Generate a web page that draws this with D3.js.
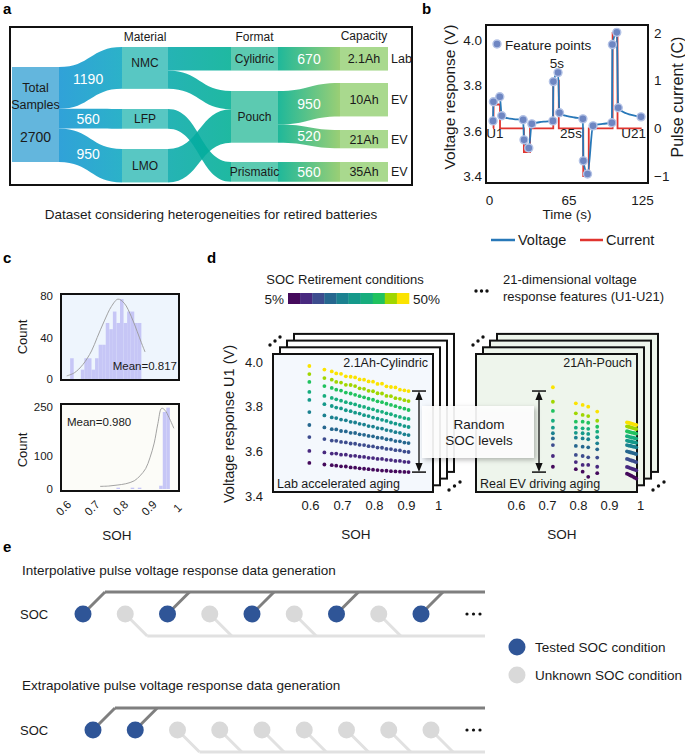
<!DOCTYPE html>
<html>
<head>
<meta charset="utf-8">
<script src="https://cdn.jsdelivr.net/npm/d3@7/dist/d3.min.js"></script>
<style>
html,body{margin:0;padding:0;background:#fff;}
svg{display:block;}
</style>
</head>
<body>
<svg id="fig" width="685" height="756"></svg>
<script>
// ====================== DATA ======================
// (a) Sankey of the dataset
const sankeyNodes = ["Total Samples","NMC","LFP","LMO","Cylidric","Pouch","Prismatic","2.1Ah","10Ah","21Ah","35Ah"];
const sankeyStages = ["Material","Format","Capacity"];
const linkSource = ["Total Samples","Total Samples","Total Samples","NMC","NMC","LFP","LMO","Cylidric","Pouch","Pouch","Prismatic"];
const linkTarget = ["NMC","LFP","LMO","Cylidric","Pouch","Prismatic","Pouch","2.1Ah","10Ah","21Ah","35Ah"];
const linkValue  = [1190,560,950,670,520,560,950,670,950,520,560];
const capacityNodes = ["2.1Ah","10Ah","21Ah","35Ah"];
const capacityUse = ["Lab","EV","EV","EV"];

// (b) pulse test
const voltTime  = [3.3,3.6,8.8,10.4,12,15,20,27.9,28.6,32.5,35,37,41,46,52.2,52.6,56.4,57.6,60,64,70,76.7,77.1,80.5,85,88,93,100.4,100.8,104.4,105.6,108,112,118,124.2];
const voltValue = [3.644,3.729,3.751,3.667,3.661,3.656,3.652,3.649,3.560,3.524,3.631,3.634,3.638,3.641,3.644,3.818,3.858,3.680,3.672,3.665,3.659,3.653,3.467,3.409,3.622,3.627,3.631,3.636,3.982,4.036,3.702,3.689,3.678,3.668,3.662];
const currTime  = [3.3,3.7,3.7,9,9,28.5,28.5,33.5,33.5,52.5,52.5,57,57,77,77,81.5,81.5,101,101,105,105,124.7];
const currValue = [0,0,0.5,0.5,0,0,-0.5,-0.5,0,0,1,1,0,0,-1,-1,0,0,2,2,0,0];
const featTime  = [3.3,3.6,8.8,10.4,27.9,28.6,32.5,35,52.2,52.6,56.4,57.6,76.7,77.1,80.5,85,100.4,100.8,104.4,105.6,124.2];
const featValue = [3.644,3.729,3.751,3.667,3.649,3.560,3.524,3.631,3.644,3.818,3.858,3.680,3.653,3.467,3.409,3.622,3.636,3.982,4.036,3.702,3.662];
const voltTicks = [3.4,3.6,3.8,4.0];
const currTicks = [-1,0,1,2];
const timeTicks = [0,65,125];

// (c) SOH histograms
const histTopStart  = [0.625,0.6375,0.65,0.6625,0.675,0.6875,0.7,0.7125,0.725,0.7375,0.75,0.7625,0.775,0.7875,0.8,0.8125,0.825,0.8375,0.85,0.8625];
const histTopCount  = [20,0,0,9,20,20,9,20,33,33,54,48,65,54,77,54,65,65,54,54];
const histBotStart  = [0.7875,0.8375,0.8625,0.9375,0.95,0.9625];
const histBotCount  = [4,4,4,10,235,248];
const fitTopSOH   = [0.613,0.64,0.67,0.70,0.72,0.745,0.77,0.793,0.815,0.84,0.86,0.875,0.888];
const fitTopCount = [3,6,14,27,40,56,70,77,73,60,46,35,26];
const fitBotSOH   = [0.73,0.76,0.79,0.82,0.85,0.87,0.89,0.905,0.92,0.933,0.946,0.958,0.972,0.989];
const fitBotCount = [8,9,12,16,25,40,62,95,140,200,246,240,218,185];
const histTopTicks = [0,40,80];
const histBotTicks = [0,100,250];
const sohTicks = [0.6,0.7,0.8,0.9,1];

// (d) U1 vs SOH for 10 SOC levels (rows: 5% ... 50%)
const socColors = ["#450a5c","#48297f","#3d4c8e","#26678f","#1b8190","#15998a","#17ad7d","#20c25f","#a0d600","#fbe300"];
const cylSOH = [0.598,0.645,0.668,0.682,0.697,0.712,0.727,0.741,0.755,0.769,0.783,0.797,0.811,0.825,0.839,0.853,0.867,0.881,0.895,0.908];
const cylU1 = [
 [3.548,3.541,3.538,3.536,3.533,3.532,3.528,3.527,3.524,3.522,3.520,3.518,3.516,3.514,3.513,3.511,3.510,3.509,3.508,3.507],
 [3.602,3.595,3.590,3.590,3.585,3.585,3.580,3.580,3.576,3.575,3.571,3.570,3.566,3.566,3.562,3.561,3.557,3.557,3.553,3.552],
 [3.664,3.655,3.648,3.647,3.642,3.640,3.635,3.634,3.629,3.628,3.623,3.622,3.617,3.616,3.611,3.610,3.605,3.604,3.599,3.597],
 [3.718,3.707,3.699,3.698,3.691,3.689,3.683,3.682,3.676,3.674,3.669,3.667,3.661,3.660,3.654,3.652,3.646,3.645,3.639,3.637],
 [3.776,3.761,3.752,3.749,3.742,3.739,3.732,3.729,3.723,3.720,3.713,3.711,3.704,3.702,3.695,3.692,3.686,3.683,3.676,3.673],
 [3.830,3.811,3.803,3.796,3.792,3.784,3.780,3.773,3.769,3.762,3.758,3.751,3.746,3.741,3.736,3.729,3.724,3.719,3.713,3.709],
 [3.866,3.848,3.839,3.833,3.827,3.820,3.815,3.810,3.803,3.799,3.792,3.788,3.781,3.777,3.770,3.766,3.759,3.754,3.749,3.745],
 [3.911,3.892,3.884,3.876,3.872,3.863,3.859,3.853,3.847,3.842,3.836,3.831,3.824,3.820,3.813,3.808,3.802,3.796,3.791,3.785],
 [3.946,3.928,3.921,3.911,3.908,3.898,3.897,3.892,3.882,3.880,3.871,3.869,3.860,3.859,3.848,3.847,3.838,3.835,3.829,3.825],
 [3.982,3.966,3.958,3.949,3.947,3.936,3.934,3.931,3.922,3.921,3.913,3.912,3.902,3.903,3.891,3.888,3.886,3.876,3.873,3.870]
];
const pouchSOH = [0.719,0.793,0.815,0.833,0.862];
const pouchU1 = [
 [3.531,3.520,3.509,3.486,3.502],
 [3.579,3.552,3.539,3.539,3.531],
 [3.628,3.584,3.579,3.573,3.572],
 [3.658,3.624,3.621,3.618,3.609],
 [3.681,3.661,3.658,3.654,3.636],
 [3.706,3.683,3.681,3.678,3.663],
 [3.737,3.706,3.703,3.701,3.688],
 [3.781,3.733,3.733,3.728,3.710],
 [3.822,3.770,3.763,3.758,3.737],
 [3.887,3.815,3.808,3.800,3.778]
];
const pouchNewSOH = [0.958,0.963,0.968,0.973,0.978,0.983,0.988];
const pouchNewU1 = [
 [3.500,3.497,3.493,3.490,3.486,3.482,3.478],
 [3.530,3.528,3.525,3.523,3.520,3.518,3.515],
 [3.566,3.564,3.561,3.559,3.557,3.554,3.552],
 [3.600,3.598,3.596,3.594,3.592,3.590,3.588],
 [3.628,3.626,3.625,3.623,3.621,3.620,3.618],
 [3.648,3.646,3.645,3.643,3.641,3.640,3.638],
 [3.668,3.666,3.664,3.662,3.661,3.659,3.657],
 [3.690,3.688,3.686,3.684,3.683,3.681,3.679],
 [3.712,3.710,3.708,3.706,3.704,3.702,3.700],
 [3.730,3.728,3.726,3.724,3.722,3.720,3.718]
];
const u1Ticks = [3.4,3.6,3.8,4.0];

// (e) SOC sampling schemes (1 = tested, 0 = unknown)
const interpTested = [1,0,1,0,1,0,1,0,1];
const extrapTested = [1,1,0,0,0,0,0,0,0];

// ====================== DRAWING ======================
const FONT = '"Liberation Sans", Arial, Helvetica, sans-serif';
const INK = "#1a1a1a";
const svg = d3.select("#fig").attr("font-family", FONT);
svg.append("rect").attr("width",685).attr("height",756).attr("fill","#ffffff");
const defs = svg.append("defs");

function label(g, x, y, s, size, o = {}) {
  const t = g.append("text").attr("x", x).attr("y", y).text(s)
    .attr("font-size", size).attr("fill", o.fill || INK)
    .attr("text-anchor", o.anchor || "start");
  if (o.weight) t.attr("font-weight", o.weight);
  if (o.rotate) t.attr("transform", `rotate(${o.rotate},${x},${y})`);
  return t;
}
function styleAxis(a, size) {
  a.select(".domain").remove();
  a.selectAll(".tick line").remove();
  a.attr("font-family", FONT);
  a.selectAll("text").attr("font-size", size).attr("fill", INK);
  return a;
}
const fmtSOH = d => d === 1 ? "1" : d3.format(".1f")(d);

// panel letters
[["a",3,14],["b",422,14],["c",3,263],["d",207,263],["e",3,552]].forEach(([s,x,y]) =>
  label(svg, x, y, s, 15, {weight:"bold", fill:"#000"}));

// ---------- (a) Sankey ----------
const gA = svg.append("g");
const colX = [[12,59],[122,168],[231,278],[340,388]];
const nodeCol = {"Total Samples":0, NMC:1, LFP:1, LMO:1, Cylidric:2, Pouch:2, Prismatic:2, "2.1Ah":3, "10Ah":3, "21Ah":3, "35Ah":3};
const nodeTop = {"Total Samples":67, NMC:47, LFP:109, LMO:149, Cylidric:47, Pouch:91, Prismatic:162, "2.1Ah":47, "10Ah":83, "21Ah":130, "35Ah":162};
const nodeFill = ["#63b6dd","#58c7c3","#5ccab1","#a9d98e"];
const nodeValue = {};
sankeyNodes.forEach(n => {
  const vin = d3.sum(linkValue.filter((v,i) => linkTarget[i] === n));
  const vout = d3.sum(linkValue.filter((v,i) => linkSource[i] === n));
  nodeValue[n] = Math.max(vin, vout);
});
const flowH = d3.scaleLinear().domain([0, nodeValue["Total Samples"]]).range([0, 95]);

[["lg0",59,122,"#1495d3","#0ea7c1"],["lg1",168,231,"#07a9aa","#00af94"],["lg2",278,340,"#00ae8c","#8cc862"]]
.forEach(([id,x1,x2,c1,c2]) => {
  const g = defs.append("linearGradient").attr("id", id).attr("gradientUnits","userSpaceOnUse")
    .attr("x1",x1).attr("x2",x2).attr("y1",0).attr("y2",0);
  g.append("stop").attr("offset",0).attr("stop-color",c1);
  g.append("stop").attr("offset",1).attr("stop-color",c2);
});

const outOff = {}, inOff = {};
sankeyNodes.forEach(n => { outOff[n] = 0; inOff[n] = 0; });
const links = linkValue.map((v,i) => {
  const s = linkSource[i], t = linkTarget[i], w = flowH(v), c = nodeCol[s];
  const x0 = colX[c][1], x1 = colX[c+1][0];
  const y0 = nodeTop[s] + outOff[s]; outOff[s] += w;
  const y1 = nodeTop[t] + inOff[t]; inOff[t] += w;
  return {s, t, v, w, c, x0, x1, y0, y1};
});
links.forEach(l => {
  const xm = (l.x0 + l.x1) / 2;
  gA.append("path")
    .attr("d", `M${l.x0},${l.y0}C${xm},${l.y0} ${xm},${l.y1} ${l.x1},${l.y1}L${l.x1},${l.y1+l.w}C${xm},${l.y1+l.w} ${xm},${l.y0+l.w} ${l.x0},${l.y0+l.w}Z`)
    .attr("fill", `url(#lg${l.c})`).attr("fill-opacity", 0.88);
});
function bz(a, b, t) { const m = (a+b)/2; return (1-t)**3*a + 3*(1-t)**2*t*m + 3*(1-t)*t*t*m + t**3*b; }
function bzy(a, b, t) { return (1-t)**3*a + 3*(1-t)**2*t*a + 3*(1-t)*t*t*b + t**3*b; }
links.filter(l => l.c !== 1).forEach(l => {
  const t = l.c === 0 ? 0.45 : 0.5;
  const x = bz(l.x0, l.x1, t), y = bzy(l.y0, l.y1, t) + l.w/2;
  label(gA, x, y + 5, d3.format("d")(l.v), 14, {fill:"#ffffff", anchor:"middle"});
});
sankeyNodes.forEach(n => {
  const c = nodeCol[n];
  gA.append("rect").attr("x", colX[c][0]).attr("y", nodeTop[n])
    .attr("width", colX[c][1]-colX[c][0]).attr("height", flowH(nodeValue[n]))
    .attr("fill", nodeFill[c]);
});
sankeyNodes.forEach(n => {
  const c = nodeCol[n];
  const cx = (colX[c][0] + colX[c][1]) / 2;
  const cy = nodeTop[n] + flowH(nodeValue[n]) / 2;
  if (c === 0) {
    label(gA, cx, 91.5, "Total", 12.5, {anchor:"middle"});
    label(gA, cx, 108.5, "Samples", 12.5, {anchor:"middle"});
    label(gA, cx, 142, d3.format("d")(nodeValue[n]), 14, {anchor:"middle"});
  } else {
    const y = n === "NMC" ? nodeTop[n] + 19.5 : cy + 4.5;
    label(gA, cx, y, n, c === 3 ? 12.5 : 12, {anchor:"middle"});
  }
});
capacityNodes.forEach((n,i) => {
  label(gA, 391, nodeTop[n] + flowH(nodeValue[n]) / 2 + 4.5, capacityUse[i], 12.5);
});
sankeyStages.forEach((s,i) => {
  label(gA, (colX[i+1][0] + colX[i+1][1]) / 2, i === 2 ? 40 : 41, s, 12, {anchor:"middle"});
});
gA.append("rect").attr("x",10).attr("y",27).attr("width",402).attr("height",158)
  .attr("fill","none").attr("stroke","#111").attr("stroke-width",2);
label(gA, 211, 218.5, "Dataset considering heterogeneities for retired batteries", 13.5, {anchor:"middle"});

// ---------- (b) Pulse voltage response ----------
const gB = svg.append("g");
const bx = d3.scaleLinear().domain([0,125]).range([489,642]);
const by = d3.scaleLinear().domain([3.4,4.0]).range([176,40.5]);
const bc = d3.scaleLinear().domain([-1,2]).range([176,33]);
gB.append("rect").attr("x",486).attr("y",25).attr("width",162).attr("height",158).attr("fill","#fff");
gB.append("path").datum(d3.range(currTime.length))
  .attr("d", d3.line().x(i => bx(currTime[i])).y(i => bc(currValue[i])))
  .attr("fill","none").attr("stroke","#e0342f").attr("stroke-width",1.8);
gB.append("path").datum(d3.range(voltTime.length))
  .attr("d", d3.line().curve(d3.curveMonotoneX).x(i => bx(voltTime[i])).y(i => by(voltValue[i])))
  .attr("fill","none").attr("stroke","#2878b8").attr("stroke-width",1.8);
gB.selectAll("circle.fp").data(d3.range(featTime.length)).join("circle").attr("class","fp")
  .attr("cx", i => bx(featTime[i])).attr("cy", i => by(featValue[i])).attr("r",4)
  .attr("fill","#6e86c2").attr("stroke","#b4c3e6").attr("stroke-width",1.4);
gB.append("rect").attr("x",486).attr("y",25).attr("width",162).attr("height",158)
  .attr("fill","none").attr("stroke","#111").attr("stroke-width",2);
styleAxis(gB.append("g").attr("transform","translate(486,0)")
  .call(d3.axisLeft(by).tickValues(voltTicks).tickSize(0).tickPadding(4).tickFormat(d3.format(".1f"))), 13.5);
styleAxis(gB.append("g").attr("transform","translate(648,0)")
  .call(d3.axisRight(bc).tickValues(currTicks).tickSize(0).tickPadding(6).tickFormat(d3.format("d"))), 13.5);
styleAxis(gB.append("g").attr("transform","translate(0,183)")
  .call(d3.axisBottom(bx).tickValues(timeTicks).tickSize(0).tickPadding(12)), 13.5);
label(gB, 455, 97, "Voltage response (V)", 15.5, {anchor:"middle", rotate:-90});
label(gB, 683, 97, "Pulse current (C)", 16, {anchor:"middle", rotate:-90});
label(gB, 567, 219, "Time (s)", 13.5, {anchor:"middle"});
gB.append("circle").attr("cx",497).attr("cy",44).attr("r",4).attr("fill","#6e86c2").attr("stroke","#b4c3e6").attr("stroke-width",1.4);
label(gB, 505, 49.5, "Feature points", 13.5);
label(gB, 557, 68, "5s", 13.5, {anchor:"middle"});
label(gB, 495, 138, "U1", 13.5, {anchor:"middle"});
label(gB, 571, 138, "25s", 13.5, {anchor:"middle"});
label(gB, 646, 138, "U21", 13.5, {anchor:"end"});
gB.append("line").attr("x1",491).attr("x2",515).attr("y1",240).attr("y2",240).attr("stroke","#2878b8").attr("stroke-width",2.5);
label(gB, 518, 245, "Voltage", 14.5);
gB.append("line").attr("x1",580).attr("x2",603).attr("y1",240).attr("y2",240).attr("stroke","#e0342f").attr("stroke-width",2.5);
label(gB, 606, 245, "Current", 14.5);

// ---------- (c) SOH histograms ----------
const gC = svg.append("g");
const cX = d3.scaleLinear().domain([0.6,1]).range([63,177]);
const cYt = d3.scaleLinear().domain([0,80]).range([379,296]);
const cYb = d3.scaleLinear().domain([0,250]).range([489,407]);
const binW = histTopStart[1] - histTopStart[0];
function histPanel(fy, fh, bg, yS, starts, counts, fitX, fitY, ticks) {
  gC.append("rect").attr("x",61).attr("y",fy).attr("width",118).attr("height",fh).attr("fill",bg);
  gC.selectAll(null).data(d3.range(starts.length)).join("rect")
    .attr("x", i => cX(starts[i])).attr("width", i => cX(starts[i]+binW) - cX(starts[i]))
    .attr("y", i => yS(counts[i])).attr("height", i => yS(0) - yS(counts[i]))
    .attr("fill","#c6c6f6");
  gC.append("path").datum(d3.range(fitX.length))
    .attr("d", d3.line().curve(d3.curveCatmullRom).x(i => cX(fitX[i])).y(i => yS(fitY[i])))
    .attr("fill","none").attr("stroke","#999").attr("stroke-width",0.9);
  gC.append("rect").attr("x",61).attr("y",fy).attr("width",118).attr("height",fh)
    .attr("fill","none").attr("stroke","#111").attr("stroke-width",2);
  styleAxis(gC.append("g").attr("transform","translate(61,0)")
    .call(d3.axisLeft(yS).tickValues(ticks).tickSize(0).tickPadding(8)), 11.5);
}
histPanel(294, 86, "#eef5fd", cYt, histTopStart, histTopCount, fitTopSOH, fitTopCount, histTopTicks);
histPanel(404, 87, "#fcfcf8", cYb, histBotStart, histBotCount, fitBotSOH, fitBotCount, histBotTicks);
label(gC, 177, 370, "Mean=0.817", 11.5, {anchor:"end"});
label(gC, 67, 426, "Mean=0.980", 11.5);
label(gC, 27, 337, "Count", 13, {anchor:"middle", rotate:-90});
label(gC, 27, 450, "Count", 13, {anchor:"middle", rotate:-90});
const cxAxis = gC.append("g").attr("transform","translate(0,508)")
  .call(d3.axisBottom(cX).tickValues(sohTicks).tickSize(0).tickFormat(fmtSOH));
styleAxis(cxAxis, 11.5);
cxAxis.selectAll("text").attr("y",0).attr("dy","0.35em").attr("text-anchor","middle").attr("transform","rotate(-45)");
label(gC, 117, 540, "SOH", 13.5, {anchor:"middle"});

// ---------- (d) U1 vs SOH ----------
const gD = svg.append("g");
label(gD, 345, 284, "SOC Retirement conditions", 13, {anchor:"middle"});
const cbX = d3.scaleLinear().domain([0, socColors.length]).range([288, 409]);
socColors.forEach((c,i) => gD.append("rect").attr("x", cbX(i)).attr("y",293)
  .attr("width", cbX(i+1)-cbX(i)+0.3).attr("height",11).attr("fill",c));
label(gD, 284, 303.5, "5%", 13.5, {anchor:"end"});
label(gD, 413, 303.5, "50%", 13.5);
[476,481.5,487].forEach(x => gD.append("circle").attr("cx",x).attr("cy",291).attr("r",1.7).attr("fill","#111"));
label(gD, 503, 284, "21-dimensional voltage", 13);
label(gD, 503, 301, "response features (U1-U21)", 13);

function stack(fx, fy, fw, fh, frontFill, backFill) {
  for (let k = 3; k >= 1; k--) {
    gD.append("rect").attr("x", fx+7*k).attr("y", fy-6.7*k).attr("width", fw).attr("height", fh)
      .attr("fill", backFill).attr("stroke","#111").attr("stroke-width",2);
  }
  gD.append("rect").attr("x", fx).attr("y", fy).attr("width", fw).attr("height", fh)
    .attr("fill", frontFill).attr("stroke","#111").attr("stroke-width",2);
  [[-3,-9],[2,-13],[7,-17]].forEach(([dx,dy]) =>
    gD.append("circle").attr("cx",fx+dx).attr("cy",fy+dy).attr("r",1.7).attr("fill","#111"));
  [[16,-2],[21.5,-6],[27,-10]].forEach(([dx,dy]) =>
    gD.append("circle").attr("cx",fx+fw+dx).attr("cy",fy+fh+dy).attr("r",1.7).attr("fill","#111"));
}
const dY = d3.scaleLinear().domain([3.4,4.0]).range([496,362]);
const dXl = d3.scaleLinear().domain([0.6,1]).range([310,438]);
const dXr = d3.scaleLinear().domain([0.6,1]).range([516,640]);

function scatterRows(xs, rows, xS) {
  rows.forEach((row, r) => {
    gD.selectAll(null).data(row).join("circle")
      .attr("cx", (v,i) => xS(xs[i])).attr("cy", v => dY(v)).attr("r",1.9)
      .attr("fill", socColors[r]);
  });
}
// left stack: 2.1Ah cylindric
stack(273, 354, 160, 138, "#f4f8fd", "#ffffff");
scatterRows(cylSOH, cylU1, dXl);
label(gD, 428, 367, "2.1Ah-Cylindric", 12.5, {anchor:"end"});
label(gD, 277, 488, "Lab accelerated aging", 12.5);
styleAxis(gD.append("g").attr("transform","translate(273,0)")
  .call(d3.axisLeft(dY).tickValues(u1Ticks).tickSize(0).tickPadding(10).tickFormat(d3.format(".1f"))), 13);
styleAxis(gD.append("g").attr("transform","translate(0,492)")
  .call(d3.axisBottom(dXl).tickValues(sohTicks).tickSize(0).tickPadding(9).tickFormat(fmtSOH)), 13);
label(gD, 234, 424, "Voltage response U1 (V)", 14.5, {anchor:"middle", rotate:-90});
label(gD, 356, 539, "SOH", 13.5, {anchor:"middle"});

// right stack: 21Ah pouch
stack(476, 354, 161, 138, "#eef5ec", "#eef5ec");
scatterRows(pouchSOH, pouchU1, dXr);
scatterRows(pouchNewSOH, pouchNewU1, dXr);
label(gD, 632, 367, "21Ah-Pouch", 12.5, {anchor:"end"});
label(gD, 480, 488, "Real EV driving aging", 12.5);
styleAxis(gD.append("g").attr("transform","translate(0,492)")
  .call(d3.axisBottom(dXr).tickValues(sohTicks).tickSize(0).tickPadding(9).tickFormat(fmtSOH)), 13);
label(gD, 562, 539, "SOH", 13.5, {anchor:"middle"});

// Random SOC levels callout
const sh = defs.append("filter").attr("id","shadow").attr("x","-20%").attr("y","-30%").attr("width","150%").attr("height","170%");
sh.append("feDropShadow").attr("dx",2).attr("dy",2).attr("stdDeviation",2.5).attr("flood-color","#000").attr("flood-opacity",0.3);
gD.append("rect").attr("x",422).attr("y",406).attr("width",112).attr("height",52)
  .attr("fill","#ffffff").attr("fill-opacity",0.9).attr("filter","url(#shadow)");
label(gD, 479, 429, "Random", 13.5, {anchor:"middle"});
label(gD, 479, 445, "SOC levels", 13.5, {anchor:"middle"});
const lastCol = cylU1.map(r => r[r.length-1]);
const arrTop = dY(d3.max(lastCol)), arrBot = dY(d3.min(lastCol));
function dblArrow(x, y0, y1) {
  const g = gD.append("g");
  g.append("line").attr("x1",x).attr("x2",x).attr("y1",y0+4).attr("y2",y1-4).attr("stroke","#111").attr("stroke-width",1.3);
  g.append("line").attr("x1",x-7).attr("x2",x+7).attr("y1",y0).attr("y2",y0).attr("stroke","#111").attr("stroke-width",1.5);
  g.append("line").attr("x1",x-7).attr("x2",x+7).attr("y1",y1).attr("y2",y1).attr("stroke","#111").attr("stroke-width",1.5);
  g.append("path").attr("d",`M${x},${y0}L${x-3.6},${y0+9}L${x+3.6},${y0+9}Z`).attr("fill","#111");
  g.append("path").attr("d",`M${x},${y1}L${x-3.6},${y1-9}L${x+3.6},${y1-9}Z`).attr("fill","#111");
}
dblArrow(419, arrTop, arrBot);
dblArrow(539, arrTop, arrBot);

// ---------- (e) schemes ----------
const gE = svg.append("g");
function scheme(tested, xS, cy, title, titleY) {
  label(gE, 22, titleY, title, 13.5);
  label(gE, 20, cy + 5, "SOC", 13);
  const d = 22, xEnd = 485;
  const tx = tested.map((t,i) => t ? xS(i) : null).filter(v => v !== null);
  const ux = tested.map((t,i) => t ? null : xS(i)).filter(v => v !== null);
  // unknown branch (below)
  gE.append("line").attr("x1", d3.min(ux)+d).attr("x2", xEnd).attr("y1", cy+d).attr("y2", cy+d)
    .attr("stroke","#e1e1e1").attr("stroke-width",3);
  ux.forEach(x => gE.append("line").attr("x1",x).attr("y1",cy).attr("x2",x+d).attr("y2",cy+d)
    .attr("stroke","#e1e1e1").attr("stroke-width",3));
  // tested branch (above)
  gE.append("line").attr("x1", d3.min(tx)+d).attr("x2", xEnd).attr("y1", cy-d).attr("y2", cy-d)
    .attr("stroke","#7f7f7f").attr("stroke-width",3);
  tx.forEach(x => gE.append("line").attr("x1",x).attr("y1",cy).attr("x2",x+d).attr("y2",cy-d)
    .attr("stroke","#7f7f7f").attr("stroke-width",3));
  tested.forEach((t,i) => gE.append("circle").attr("cx", xS(i)).attr("cy", cy).attr("r", 8.5)
    .attr("fill", t ? "#2f5597" : "#d9d9d9"));
  [467,473.5,480].forEach(x => gE.append("circle").attr("cx",x).attr("cy",cy).attr("r",1.6).attr("fill","#111"));
}
scheme(interpTested, d3.scaleLinear().domain([0,8]).range([83,421]), 614,
  "Interpolative pulse voltage response data generation", 575);
scheme(extrapTested, d3.scaleLinear().domain([0,8]).range([93,431]), 730,
  "Extrapolative pulse voltage response data generation", 690);
gE.append("circle").attr("cx",517).attr("cy",647).attr("r",8.5).attr("fill","#2f5597");
label(gE, 535, 652, "Tested SOC condition", 13.5);
gE.append("circle").attr("cx",517).attr("cy",675).attr("r",8.5).attr("fill","#d9d9d9");
label(gE, 535, 680, "Unknown SOC condition", 13.5);
</script>
</body>
</html>
